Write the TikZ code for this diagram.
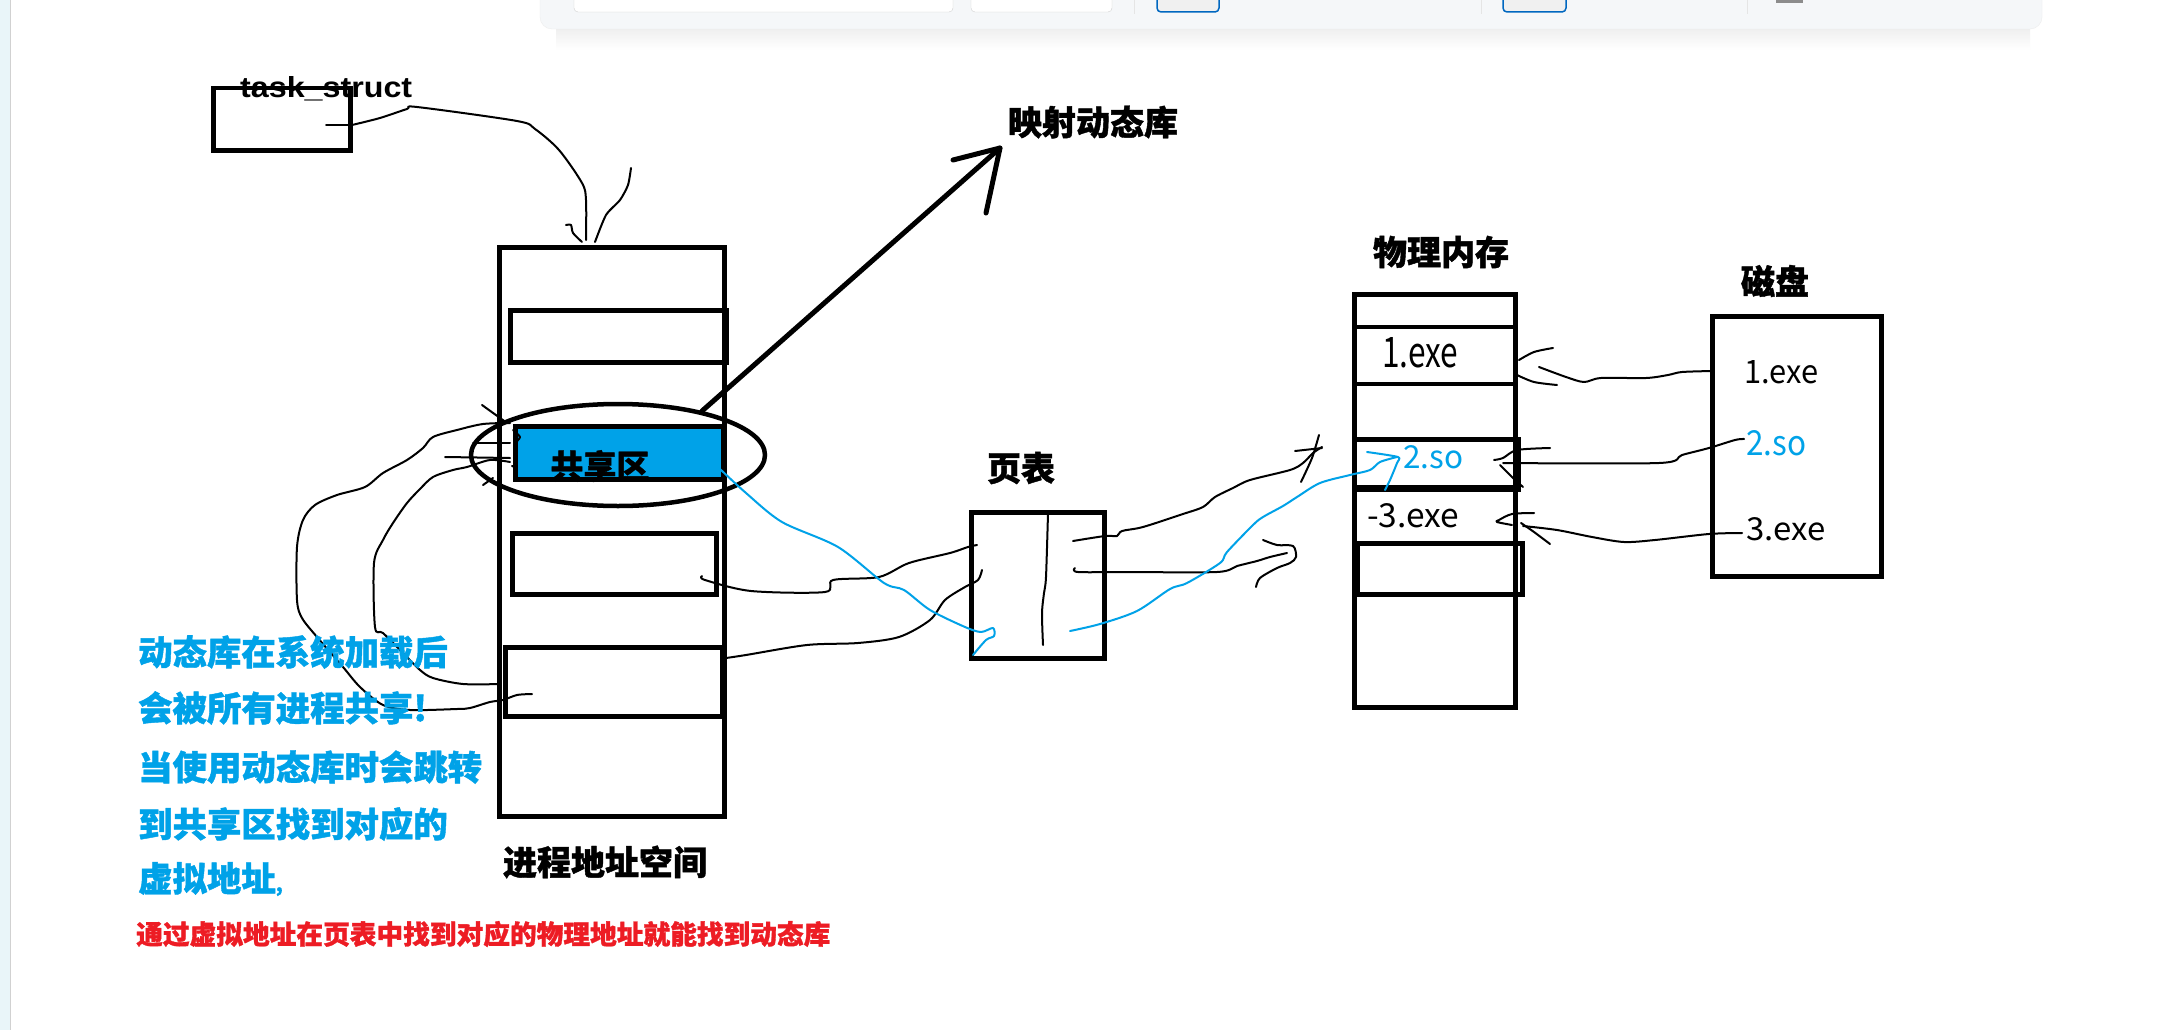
\documentclass[tikz,border=0pt]{standalone}
\usepackage{fontspec}
\usepackage{graphicx}
\usetikzlibrary{shapes.geometric}
\setmainfont{Liberation Sans}
\newfontfamily\cjk{Noto Sans CJK SC}
\newfontfamily\cjkh{Noto Sans CJK SC}[BoldFeatures={FakeBold=1.2}]
\definecolor{pblue}{RGB}{0,162,232}
\definecolor{pred}{RGB}{237,28,36}
\definecolor{panel}{RGB}{245,247,249}
\definecolor{strip}{RGB}{233,245,249}
\definecolor{tbblue}{RGB}{0,103,192}
\newcommand\rectnode[5]{\node[box,#5,anchor=north west,minimum width=#3pt,minimum height=#4pt] (#1) at (#2) {};}
\tikzset{
  box/.style={draw=black, line width=4.5pt, inner sep=0pt, rectangle},
  ink/.style={draw=black, line width=2pt, line join=round, line cap=round},
  bink/.style={draw=pblue, line width=2pt, line join=round, line cap=round},
  lab/.style={font=\cjkh\bfseries\fontsize{34}{40}\selectfont, inner sep=0pt},
  note/.style={font=\cjkh\bfseries\fontsize{34.4}{40}\selectfont, text=pblue, inner sep=0pt, anchor=west},
  fname/.style={inner sep=0pt, anchor=base west},
}
\begin{document}
\begin{tikzpicture}[x=1pt,y=-1pt]
\useasboundingbox (0,0) rectangle (2170,1030);
\fill[white] (0,0) rectangle (2170,1030);
% window decorations
\fill[strip] (0,0) rectangle (10,1030);
\draw[black!18, line width=1pt] (10,0) -- (10,1030);
\shade[top color=black!7, bottom color=white] (556,26) rectangle (2030,50);
\fill[panel, draw=black!7, rounded corners=12pt] (540,-30) rectangle (2042,29);
\fill[white, draw=black!18, rounded corners=4pt] (574,-10) rectangle (953,12);
\fill[white, draw=black!18, rounded corners=4pt] (971,-10) rectangle (1112,12);
\draw[black!10, line width=1pt] (1134,0) -- (1134,14) (1481,0) -- (1481,14) (1747,0) -- (1747,14);
\fill[black!6, draw=tbblue, line width=1.5pt, rounded corners=4pt] (1157,-10) rectangle (1219,12);
\fill[black!6, draw=tbblue, line width=1.5pt, rounded corners=4pt] (1503,-10) rectangle (1566,12);
\fill[black!45] (1776,0) rectangle (1803,3);

% task_struct
\rectnode{task}{211,86}{137}{62}{}
\node[fname] (tasklab) at (240,98) {\resizebox{172pt}{21pt}{\bfseries task\_struct}};

% process address space
\rectnode{proc}{497,245}{225}{569}{}
\rectnode{r1}{508,308}{216}{52}{}
\rectnode{r3}{510,531}{204}{61}{}
\rectnode{r4}{503,645}{217}{69}{}
\rectnode{shared}{513,424}{208}{53}{fill=pblue}
\node[lab, font=\cjkh\bfseries\fontsize{33}{40}\selectfont] (sharedlab) at (600,466) {共享区};
\node[draw, line width=4.5pt, ellipse, minimum width=294pt, minimum height=102pt, inner sep=0pt] (ell) at (618,455) {};
\node[lab] (proclab) at (605,862) {进程地址空间};

% mapping arrow
\coordinate (astart) at (702,411);
\coordinate (atip) at (1000,148);
\draw[line width=5pt, line cap=round, line join=round] (astart) -- (atip);
\draw[line width=5pt, line cap=round, line join=round] (953,160) -- (atip) -- (986,213);
\node[lab] (maplab) at (1093,122) {映射动态库};

% page table
\rectnode{ptab}{969,510}{133}{146}{}
\node[lab] (ptablab) at (1021,468) {页表};
\draw[ink] plot[smooth, tension=0.5] coordinates {(1048,513) (1046,577) (1044,593) (1042,613) (1043,645)};

% physical memory
\rectnode{phys}{1352,292}{161}{413}{}
\draw[line width=4.5pt] (1352,327) -- (1513,327) (1352,384) -- (1513,384) (1352,487) -- (1513,487);
\rectnode{p2}{1352,437}{164}{50}{}
\rectnode{p5}{1355,541}{165}{51}{}
\node[lab] (physlab) at (1441,252) {物理内存};
\node[fname] (m1) at (1382,367) {\resizebox{76pt}{30pt}{\cjk 1.exe}};
\node[fname] (m2) at (1403,468) {\color{pblue}\resizebox{60pt}{23pt}{\cjk 2.so}};
\node[fname] (m3) at (1367,527) {\resizebox{92pt}{24pt}{\cjk -3.exe}};

% disk
\rectnode{disk}{1710,314}{169}{260}{}
\node[lab] (disklab) at (1775,281) {磁盘};
\node[fname] (d1) at (1744,383) {\resizebox{74pt}{23pt}{\cjk 1.exe}};
\node[fname] (d2) at (1746,455) {\color{pblue}\resizebox{60pt}{25pt}{\cjk 2.so}};
\node[fname] (d3) at (1746,540) {\resizebox{79pt}{23pt}{\cjk 3.exe}};

% task_struct -> process space
\draw[ink] (326,125) -- (352,125);
\draw[ink] plot[smooth, tension=0.5] coordinates {(352,125) (380,118) (407,109) (417,107) (517,121) (535,129) (559,150) (582,183) (586,200) (586,240)};
\draw[ink] plot[smooth, tension=0.4] coordinates {(566,225) (571,225) (573,233) (582,242)};
\draw[ink] plot[smooth, tension=0.4] coordinates {(631,168) (628,185) (620,200) (606,215) (595,242)};

% left curves into shared region
\draw[ink] plot[smooth, tension=0.5] coordinates {(532,694) (517,695) (503,700) (490,702) (470,708) (457,709) (410,710) (383,705) (360,687) (343,667) (317,637) (302,618) (297,600) (297,547) (303,520) (315,505) (337,495) (365,487) (383,473) (407,460) (423,448) (433,437) (457,430) (483,424) (510,423)};
\draw[ink] plot[smooth, tension=0.5] coordinates {(500,684) (463,684) (433,678) (420,670) (403,653) (383,633) (375,627) (374,563) (383,540) (393,523) (407,503) (420,489) (433,477) (453,470) (467,467) (490,460) (510,462)};
\draw[ink] (482,405) -- (507,423);
\draw[ink] (473,443) -- (510,443);
\draw[ink] (445,457) -- (510,458);
\draw[ink] (483,485) -- (493,478);
\draw[ink] (512,466) -- (517,468);
\draw[ink] plot[smooth, tension=0.4] coordinates {(513,430) (520,437) (515,443)};

% process space -> page table
\draw[ink] plot[smooth, tension=0.5] coordinates {(702,576) (705,580) (751,591) (825,592) (833,580) (879,577) (909,563) (950,553) (968,547) (977,545)};
\draw[ink] plot[smooth, tension=0.5] coordinates {(726,658) (746,655) (807,645) (858,643) (899,637) (930,620) (945,600) (965,587) (978,580) (982,570)};
\draw[bink] plot[smooth, tension=0.5] coordinates {(720,469) (746,493) (782,522) (838,547) (884,583) (904,590) (930,610) (965,627) (981,632) (993,628) (994,636) (986,640) (973,655)};

% page table -> physical memory
\draw[ink] plot[smooth, tension=0.5] coordinates {(1073,541) (1105,536) (1117,536) (1122,531) (1143,527) (1183,514) (1203,507) (1215,497) (1233,488) (1250,480) (1290,470) (1303,463) (1313,453) (1322,447)};
\draw[ink] (1295,451) -- (1322,448);
\draw[ink] plot[smooth, tension=0.4] coordinates {(1319,435) (1312,458) (1301,482)};
\draw[ink] plot[smooth, tension=0.5] coordinates {(1075,568) (1078,572) (1127,572) (1217,572) (1237,566) (1257,561) (1270,557) (1287,553)};
\draw[ink] plot[smooth, tension=0.5] coordinates {(1263,540) (1277,545) (1293,546) (1296,557) (1290,563) (1277,568) (1260,578) (1256,587)};
\draw[bink] plot[smooth, tension=0.5] coordinates {(1070,631) (1100,624) (1137,611) (1170,589) (1187,583) (1220,563) (1227,552) (1253,525) (1263,517) (1283,506) (1297,497) (1320,483) (1350,475) (1370,470) (1380,462) (1397,457)};
\draw[bink] plot[smooth, tension=0.4] coordinates {(1367,452) (1398,457) (1397,463) (1390,480) (1385,490)};

% disk -> physical memory
\draw[ink] plot[smooth, tension=0.5] coordinates {(1713,371) (1682,372) (1668,375) (1646,378) (1601,378) (1584,382) (1566,377) (1539,367)};
\draw[ink] plot[smooth, tension=0.5] coordinates {(1553,348) (1534,352) (1519,360)};
\draw[ink] plot[smooth, tension=0.5] coordinates {(1517,375) (1534,382) (1557,385)};
\draw[ink] plot[smooth, tension=0.5] coordinates {(1744,439) (1735,440) (1709,448) (1682,455) (1659,463) (1503,463)};
\draw[ink] plot[smooth, tension=0.5] coordinates {(1550,448) (1517,450) (1503,458) (1494,460)};
\draw[ink] plot[smooth, tension=0.5] coordinates {(1500,465) (1512,477) (1523,487)};
\draw[ink] plot[smooth, tension=0.5] coordinates {(1742,533) (1709,534) (1655,540) (1624,542) (1592,537) (1557,530) (1523,526)};
\draw[ink] plot[smooth, tension=0.5] coordinates {(1534,513) (1512,514) (1499,520) (1497,522) (1512,525)};
\draw[ink] plot[smooth, tension=0.5] coordinates {(1521,523) (1534,532) (1550,544)};

% notes
\node[note] (n1) at (138,652) {动态库在系统加载后};
\node[note] (n2) at (138,708) {会被所有进程共享!};
\node[note] (n3) at (138,767) {当使用动态库时会跳转};
\node[note] (n4) at (138,824) {到共享区找到对应的};
\node[note] (n5) at (138,879) {虚拟地址{\fontsize{20}{24}\selectfont ,}};
\node[note, text=pred, font=\cjkh\bfseries\fontsize{26.7}{32}\selectfont] (n6) at (136,934) {通过虚拟地址在页表中找到对应的物理地址就能找到动态库};
\end{tikzpicture}
\end{document}
